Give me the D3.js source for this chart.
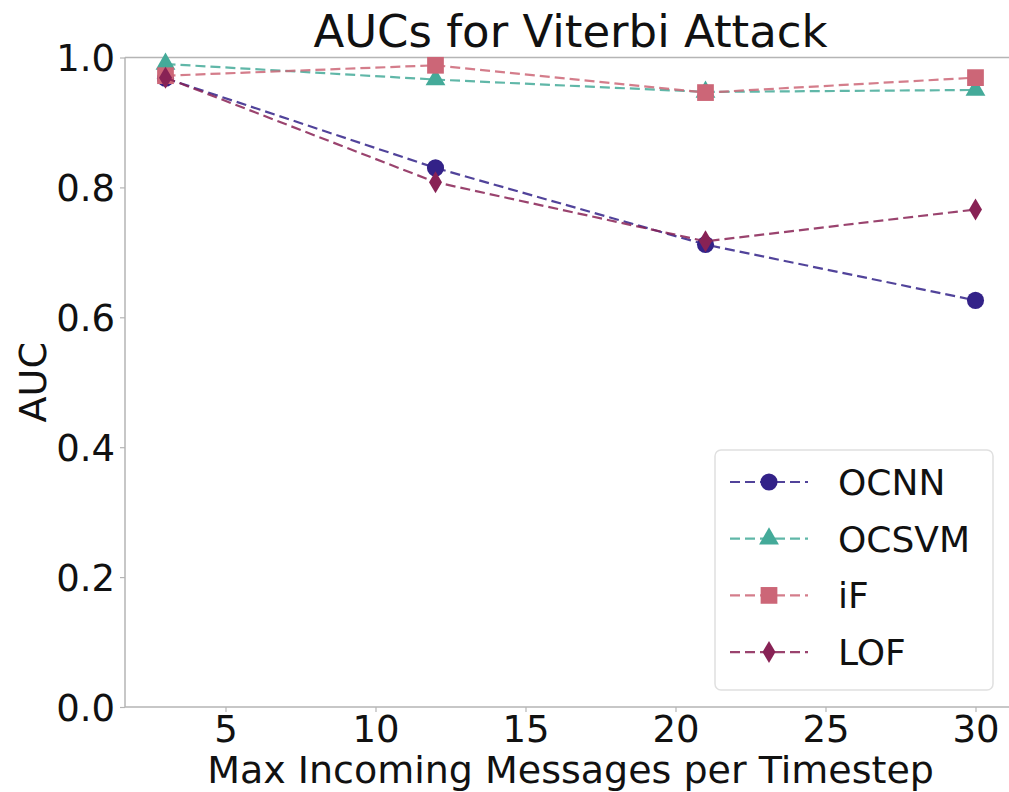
<!DOCTYPE html>
<html>
<head>
<meta charset="utf-8">
<script src="https://cdn.jsdelivr.net/npm/d3@7"></script>
<style>
  body { margin: 0; background: #fff; }
  text { font-family: "DejaVu Sans", sans-serif; fill: #111; }
</style>
</head>
<body>
<div id="chart"></div>
<script>
// data
var xValues = [3, 12, 21, 30];
var seriesNames = ["OCNN", "OCSVM", "iF", "LOF"];
var ocnn  = [0.968, 0.830, 0.712, 0.626];
var ocsvm = [0.990, 0.966, 0.947, 0.950];
var iF    = [0.972, 0.988, 0.946, 0.969];
var lof   = [0.969, 0.808, 0.717, 0.766];
var xTicks = [5, 10, 15, 20, 25, 30];
var yTicks = [0.0, 0.2, 0.4, 0.6, 0.8, 1.0];

var seriesValues = [ocnn, ocsvm, iF, lof];
var colors = ["#332288", "#44AA99", "#CC6677", "#882255"];
var shapes = ["circle", "triangle", "square", "diamond"];

var width = 1009, height = 792;
var margin = {top: 57, right: 0, bottom: 85, left: 125};

var svg = d3.select("#chart").append("svg")
    .attr("width", width)
    .attr("height", height);

// matplotlib-like 5% padding on x
var x = d3.scaleLinear()
    .domain([1.65, 31.35])
    .range([margin.left, 1016]);
var y = d3.scaleLinear()
    .domain([0, 1])
    .range([707, 57.5]);

// spines
var spineColor = "#b5b5b5";
svg.append("line")
    .attr("x1", x.range()[0]).attr("x2", x.range()[0])
    .attr("y1", y(0)).attr("y2", y(1))
    .attr("stroke", spineColor).attr("stroke-width", 1.5);
svg.append("line")
    .attr("x1", x.range()[0]).attr("x2", x.range()[1])
    .attr("y1", y(0)).attr("y2", y(0))
    .attr("stroke", spineColor).attr("stroke-width", 1.5);
svg.append("line")
    .attr("x1", x.range()[0]).attr("x2", x.range()[1])
    .attr("y1", y(1)).attr("y2", y(1))
    .attr("stroke", spineColor).attr("stroke-width", 1.5);

// axes
var xAxis = svg.append("g")
    .attr("transform", "translate(0," + y(0) + ")")
    .call(d3.axisBottom(x).tickValues(xTicks).tickSize(5).tickPadding(4).tickFormat(d3.format("d")));
var yAxis = svg.append("g")
    .attr("transform", "translate(" + margin.left + ",0)")
    .call(d3.axisLeft(y).tickValues(yTicks).tickSize(5).tickPadding(5).tickFormat(d3.format(".1f")));

[xAxis, yAxis].forEach(function (ax) {
    ax.select(".domain").remove();
    ax.selectAll(".tick line").attr("stroke", spineColor).attr("stroke-width", 1.2);
    ax.selectAll(".tick text")
        .style("font-family", "DejaVu Sans")
        .style("font-size", "37px")
        .attr("fill", "#111");
});
yAxis.selectAll(".tick text").attr("dy", "0.36em");

// symbols
function symbolFor(shape) {
    switch (shape) {
        case "circle": return d3.symbol().type(d3.symbolCircle).size(230)();
        case "triangle": return d3.symbol().type(d3.symbolTriangle).size(170)();
        case "square": return d3.symbol().type(d3.symbolSquare).size(280)();
        case "diamond": return "M0,-11L6.5,0L0,11L-6.5,0Z";
    }
}

var line = d3.line()
    .x(function (d, i) { return x(xValues[i]); })
    .y(function (d) { return y(d); });

seriesValues.forEach(function (vals, k) {
    var g = svg.append("g");
    g.append("path")
        .datum(vals)
        .attr("d", line)
        .attr("fill", "none")
        .attr("stroke", colors[k])
        .attr("stroke-opacity", 0.85)
        .attr("stroke-width", 2.2)
        .attr("stroke-dasharray", "10,5");
    g.selectAll(".pt")
        .data(vals)
        .enter().append("path")
        .attr("class", "pt")
        .attr("transform", function (d, i) {
            return "translate(" + x(xValues[i]) + "," + y(d) + ")";
        })
        .attr("d", symbolFor(shapes[k]))
        .attr("fill", colors[k]);
});

// title and labels
svg.append("text")
    .attr("x", (x.range()[0] + x.range()[1]) / 2)
    .attr("y", 47)
    .attr("text-anchor", "middle")
    .style("font-size", "45px")
    .text("AUCs for Viterbi Attack");

svg.append("text")
    .attr("x", (x.range()[0] + x.range()[1]) / 2)
    .attr("y", 783)
    .attr("text-anchor", "middle")
    .style("font-size", "38px")
    .text("Max Incoming Messages per Timestep");

svg.append("text")
    .attr("transform", "translate(46," + (y(0) + y(1)) / 2 + ") rotate(-90)")
    .attr("text-anchor", "middle")
    .style("font-size", "38px")
    .text("AUC");

// legend
var legend = svg.append("g").attr("transform", "translate(715,450)");
legend.append("rect")
    .attr("width", 278).attr("height", 240)
    .attr("rx", 6).attr("ry", 6)
    .attr("fill", "#fff").attr("fill-opacity", 0.8)
    .attr("stroke", "#e0e0e0").attr("stroke-width", 1.5);

seriesNames.forEach(function (name, k) {
    var row = legend.append("g").attr("transform", "translate(0," + (32 + k * 56.7) + ")");
    row.append("line")
        .attr("x1", 15).attr("x2", 93)
        .attr("stroke", colors[k])
        .attr("stroke-opacity", 0.85)
        .attr("stroke-width", 2.2)
        .attr("stroke-dasharray", "10,5");
    row.append("path")
        .attr("transform", "translate(54,0)")
        .attr("d", symbolFor(shapes[k]))
        .attr("fill", colors[k]);
    row.append("text")
        .attr("x", 123)
        .attr("dy", "0.36em")
        .style("font-size", "36px")
        .text(name);
});
</script>
</body>
</html>
